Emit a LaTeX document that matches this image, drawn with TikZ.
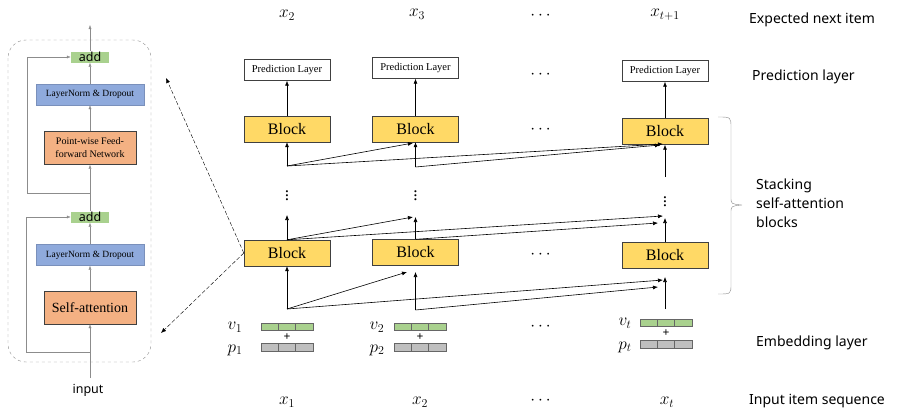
\documentclass[tikz,border=0pt]{standalone}
\usepackage{amsmath}
\usepackage{fontspec}
\setmainfont{Liberation Serif}
\setsansfont{Noto Sans}
\usetikzlibrary{positioning, arrows.meta, calc}

\begin{document}
\begin{tikzpicture}[x=1pt, y=-1pt, >={Latex[length=5pt,width=4pt]}, font=\sffamily]
    \definecolor{cadd}{RGB}{169, 209, 142} \definecolor{cln}{RGB}{143, 170, 220}
    \definecolor{cff}{RGB}{244, 177, 131} \definecolor{cblk}{RGB}{255, 217, 102}
    \definecolor{cemb}{RGB}{169, 209, 142} \definecolor{cpos}{RGB}{191, 191, 191}
    \definecolor{cline}{RGB}{140, 140, 140}
    \tikzset{
        addbox/.style={fill=cadd, minimum width=38pt, minimum height=11pt, inner sep=0pt, font=\sffamily\fontsize{12.5}{12}\selectfont},
        lnbox/.style={fill=cln, draw=cln!85!black, minimum width=108pt, minimum height=21pt, inner sep=0pt, font=\rmfamily\fontsize{9.5}{10}\selectfont},
        opbox/.style={fill=cff, draw=black!75, minimum width=92pt, minimum height=33pt, inner sep=0pt, align=center},
        blkbox/.style={fill=cblk, draw=black!75, minimum width=86pt, minimum height=26pt, inner sep=0pt, font=\rmfamily\fontsize{16}{16}\selectfont},
        predbox/.style={draw=black!75, minimum width=86pt, minimum height=21pt, inner sep=0pt, font=\rmfamily\fontsize{10.5}{11}\selectfont},
        garrow/.style={->, draw=cline, thin, >={Latex[length=4pt,width=3pt]}},
        attn/.style={->, black, semithick},
        zoomline/.style={->, thin, dash pattern=on 4pt off 2pt},
        mathlbl/.style={inner sep=0pt, font=\fontsize{17.28}{17}\selectfont},
        sidelbl/.style={anchor=west, align=left, inner sep=0pt, font=\sffamily\fontsize{14}{19}\selectfont},
        cell/.style={draw=black!60, thin}
    }
    \useasboundingbox (0,0) rectangle (900,413);

    % left: inside one self-attention block
    \draw[cline, dashed, rounded corners=18pt] (8,40) rectangle (151,362);
    \node[opbox, font=\rmfamily\fontsize{14}{14}\selectfont] (sa) at (90,307.5) {Self-attention};
    \node[lnbox] (ln1) at (90,255) {LayerNorm \& Dropout};
    \node[addbox] (add1) at (90,217) {add};
    \node[opbox, font=\rmfamily\fontsize{10}{13}\selectfont] (ffn) at (90,148) {Point-wise Feed-\\forward Network};
    \node[lnbox] (ln2) at (90,94.5) {LayerNorm \& Dropout};
    \node[addbox] (add2) at (90,57) {add};
    \node[inner sep=0pt, font=\sffamily\fontsize{12.5}{13}\selectfont] (inp) at (88,390) {input};
    \coordinate (inTop) at (90,378);
    \coordinate (res1) at (90,352);
    \coordinate (res2) at (90,193);
    \coordinate (out) at (90,25);
    \draw[garrow] (inTop) -- (sa.south);
    \draw[garrow] (sa.north) -- (ln1.south);
    \draw[garrow] (ln1.north) -- (add1.south);
    \draw[garrow] (res1) -- ++(-64,0) |- (add1.west);
    \draw[garrow] (add1.north) -- (ffn.south);
    \draw[garrow] (res2) -- ++(-63,0) |- (add2.west);
    \draw[garrow] (ffn.north) -- (ln2.south);
    \draw[garrow] (ln2.north) -- (add2.south);
    \draw[garrow] (add2.north) -- (out);

    % stacked blocks
    \node[blkbox] (blkA1) at (287,253) {Block};
    \node[blkbox] (blkA2) at (415.5,252.5) {Block};
    \node[blkbox] (blkAt) at (665,255.5) {Block};
    \node[blkbox] (blkB1) at (287,129) {Block};
    \node[blkbox] (blkB2) at (415.5,129) {Block};
    \node[blkbox] (blkBt) at (665,131.5) {Block};
    \node[predbox] (pred1) at (287,70) {Prediction Layer};
    \node[predbox] (pred2) at (415.5,68) {Prediction Layer};
    \node[predbox] (predt) at (665,71) {Prediction Layer};

    % targets and inputs
    \node[mathlbl] (y1) at (287,15) {$x_2$};
    \node[mathlbl] (y2) at (417,14) {$x_3$};
    \node[mathlbl] (yd) at (542,16) {$\cdots$};
    \node[mathlbl] (yt) at (665,15) {$x_{t+1}$};
    \node[mathlbl] (x1) at (287,402) {$x_1$};
    \node[mathlbl] (x2) at (420,402) {$x_2$};
    \node[mathlbl] (xd) at (542,401) {$\cdots$};
    \node[mathlbl] (xt) at (667,402) {$x_t$};

    % dots between columns and layers
    \foreach \y/\nm in {75/p, 130/b, 255/a, 327/e} {
        \node[mathlbl] (dots\nm) at (542,\y) {$\cdots$};
    }
    \node[mathlbl] (vd1) at (287,193) {$\vdots$};
    \node[mathlbl] (vd2) at (415.5,193) {$\vdots$};
    \node[mathlbl] (vdt) at (665,199) {$\vdots$};

    % embeddings
    \foreach \c/\cx/\lx/\vy/\py in {1/287/235/327/350, 2/420/377/327/350, t/666/625/323/347} {
        \node[mathlbl] (v\c) at (\lx,\vy) {$v_{\c}$};
        \node[mathlbl] (p\c) at (\lx,\py) {$p_{\c}$};
        \fill[cemb] (\cx-26,\vy-4) rectangle (\cx+26,\vy+3);
        \fill[cpos] (\cx-26,\py-7) rectangle (\cx+26,\py+1);
        \foreach \k in {0,1,2} {
            \draw[cell] (\cx-26+\k*17.33,\vy-4) rectangle ++(17.33,7);
            \draw[cell] (\cx-26+\k*17.33,\py-7) rectangle ++(17.33,8);
        }
        \node[inner sep=0pt, font=\bfseries\fontsize{12}{12}\selectfont] (plus\c) at (\cx,\vy+10) {+};
    }

    % attention connections
    \coordinate (e1) at (287,309); \coordinate (e2) at (415.5,310); \coordinate (et) at (665,309);
    \coordinate (m1) at (287,166); \coordinate (m2) at (415.5,167); \coordinate (mt) at (665,177);
    \coordinate (ea2) at (407,272); \coordinate (ea2v) at (415.5,272);
    \coordinate (eat) at (663,280); \coordinate (eat2) at (658,287); \coordinate (eatv) at (665,277);
    \coordinate (ma1) at (287,215); \coordinate (ma2) at (413,217); \coordinate (ma2v) at (415.5,217);
    \coordinate (mat) at (663,216); \coordinate (mat2) at (658,223); \coordinate (matv) at (665,218);
    \coordinate (mb2) at (413,143); \coordinate (mbt) at (663,144); \coordinate (mbt2) at (660,145);

    \draw[attn] (e1) -- (blkA1.south);
    \draw[attn] (e1) -- (ea2);
    \draw[attn] (e1) -- (eat);
    \draw[attn] (e2) -- (ea2v);
    \draw[attn] (e2) -- (eat2);
    \draw[attn] (et) -- (eatv);

    \draw[attn] (blkA1.north) -- (ma1);
    \draw[attn] (blkA1.north) -- (ma2);
    \draw[attn] (blkA1.north) -- (mat);
    \draw[attn] (blkA2.north) -- (ma2v);
    \draw[attn] (blkA2.north) -- (mat2);
    \draw[attn] (blkAt.north) -- (matv);

    \draw[attn] (m1) -- (blkB1.south);
    \draw[attn] (m1) -- (mb2);
    \draw[attn] (m1) -- (mbt);
    \draw[attn] (m2) -- (blkB2.south);
    \draw[attn] (m2) -- (mbt2);
    \draw[attn] (mt) -- (blkBt.south);

    \draw[attn] (blkB1.north) -- (pred1.south);
    \draw[attn] (blkB2.north) -- (pred2.south);
    \draw[attn] (blkBt.north) -- (predt.south);

    % zoom into the block
    \coordinate (zoomTop) at (166,78); \coordinate (zoomBot) at (161,333);
    \draw[zoomline] (blkA1.west) -- (zoomTop);
    \draw[zoomline] (blkA1.west) -- (zoomBot);

    % brace and side labels
    \draw[cline, thin] (718,117) .. controls (731,117) .. (731,128) -- (731,197)
        .. controls (731,204) .. (742,205) .. controls (731,206) .. (731,213) -- (731,284)
        .. controls (731,294) .. (718,294);
    \node[sidelbl] (lblY) at (749,20) {Expected next item};
    \node[sidelbl] (lblP) at (752,77) {Prediction layer};
    \node[sidelbl] (lblS) at (756,203) {Stacking\\self-attention\\blocks};
    \node[sidelbl] (lblE) at (756,343) {Embedding layer};
    \node[sidelbl] (lblX) at (749,401) {Input item sequence};
\end{tikzpicture}
\end{document}
